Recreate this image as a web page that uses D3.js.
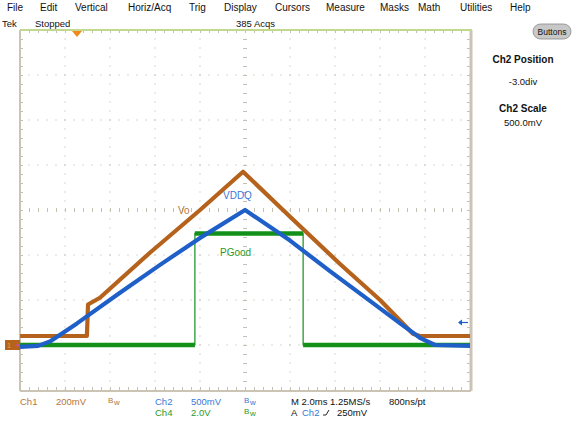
<!DOCTYPE html>
<html><head><meta charset="utf-8">
<script src="https://cdn.jsdelivr.net/npm/d3@7"></script>
<style>
html,body{margin:0;padding:0;background:#fff;}
svg{display:block;font-family:"Liberation Sans",Arial,sans-serif;}
</style></head><body>
<svg id="c" width="573" height="421"></svg>
<script>
// ---------------- data ----------------
const menuItems = ["File","Edit","Vertical","Horiz/Acq","Trig","Display","Cursors","Measure","Masks","Math","Utilities","Help"];
// Ch1 (Vo) : time in ms, volts
const ch1Time  = [-2.53, 0.44, 0.49, 1.02, 3.24, 5.47, 7.38, 9.47, 11.69, 13.47, 14.93, 15.24, 17.47];
const ch1Volts = [0.04, 0.04, 0.18, 0.21, 0.41, 0.60, 0.77, 0.57, 0.36, 0.20, 0.05, 0.04, 0.04];
// Ch2 (VDDQ)
const ch2Time  = [-2.53, -1.73, -1.2, 0, 1.91, 3.69, 5.47, 7.47, 9.47, 11.24, 13.02, 14.36, 15.24, 15.91, 17.47];
const ch2Volts = [-0.02, -0.01, 0.04, 0.24, 0.58, 0.89, 1.19, 1.50, 1.16, 0.82, 0.49, 0.24, 0.08, 0.0, -0.01];
// Ch4 (PGood)
const ch4Time  = [-2.53, 5.24, 5.24, 10.05, 10.05, 17.47];
const ch4Volts = [0, 0, 4.96, 4.96, 0, 0];
// channel settings (V/div, position div)
const channelNames = ["Ch1","Ch2","Ch4"];
const channelScales = [0.2, 0.5, 2.0];
const channelPositions = [-3.0, -3.0, -3.0];
const timePerDiv = 2.0;           // ms
const timeStart = -2.533;         // ms at left edge
const triggerLevel = 0.25;        // V on Ch2
const acqCount = 385;

// ---------------- layout ----------------
const svg = d3.select("#c");
const L = 20, R = 470, T = 30, B = 390;
const gx = d3.scaleLinear().domain([-5, 5]).range([L, R]);
const gy = d3.scaleLinear().domain([-4, 4]).range([B, T]);
const xT = d3.scaleLinear().domain([timeStart, timeStart + 10 * timePerDiv]).range([L, R]);
const yCh = i => d3.scaleLinear().domain([0, channelScales[i]]).range([gy(channelPositions[i]), gy(channelPositions[i] + 1)]);

const colBrown = "#b5631c", colBlue = "#1f5fc8", colGreen = "#13901a";
const txtBrown = "#b8753a", txtBlue = "#3a78d6", txtGreen = "#2a9a2a";

// menu bar
const menuX = [7,40,75,128,189,224,275,326,380,418,460,510];
svg.selectAll("text.menu").data(menuItems).join("text")
  .attr("x", (d, i) => menuX[i]).attr("y", 11).attr("font-size", 10).attr("fill", "#111").text(d => d);

svg.append("text").attr("x", 2).attr("y", 27).attr("font-size", 9.5).attr("fill", "#111").text("Tek");
svg.append("text").attr("x", 35).attr("y", 27).attr("font-size", 9.5).attr("fill", "#111").text("Stopped");
svg.append("text").attr("x", 236).attr("y", 27).attr("font-size", 9.5).attr("fill", "#111").text(acqCount + " Acqs");

// ---------------- graticule ----------------
const g = svg.append("g");
const minor = d3.range(-25, 26).map(k => k * 0.2);
const minorY = d3.range(-20, 21).map(k => k * 0.2);
const dotCol = "#b4aea2", tickCol = "#c6c0b4";
for (let v = -4; v <= 4; v++) {
  if (v === 0) continue;
  minorY.forEach(m => g.append("rect").attr("x", gx(v) - 0.5).attr("y", gy(m) - 0.5).attr("width", 1).attr("height", 1).attr("fill", dotCol));
}
for (let h = -3; h <= 3; h++) {
  if (h === 0) continue;
  minor.forEach(m => g.append("rect").attr("x", gx(m) - 0.5).attr("y", gy(h) - 0.5).attr("width", 1).attr("height", 1).attr("fill", dotCol));
}
// center lines with ticks
minorY.forEach(m => g.append("line").attr("x1", gx(0) - 2).attr("x2", gx(0) + 2).attr("y1", gy(m) + 0.5).attr("y2", gy(m) + 0.5).attr("stroke", tickCol));
minor.forEach(m => g.append("line").attr("y1", gy(0) - 2).attr("y2", gy(0) + 2).attr("x1", gx(m) + 0.5).attr("x2", gx(m) + 0.5).attr("stroke", tickCol));
// border ticks
minorY.forEach(m => {
  g.append("line").attr("x1", L).attr("x2", L + 3).attr("y1", gy(m) + 0.5).attr("y2", gy(m) + 0.5).attr("stroke", tickCol);
  g.append("line").attr("x1", R - 3).attr("x2", R).attr("y1", gy(m) + 0.5).attr("y2", gy(m) + 0.5).attr("stroke", tickCol);
});
minor.forEach(m => {
  g.append("line").attr("y1", T).attr("y2", T + 3).attr("x1", gx(m) + 0.5).attr("x2", gx(m) + 0.5).attr("stroke", tickCol);
  g.append("line").attr("y1", B - 3).attr("y2", B).attr("x1", gx(m) + 0.5).attr("x2", gx(m) + 0.5).attr("stroke", tickCol);
});
// borders
g.append("line").attr("x1", L).attr("x2", L).attr("y1", T).attr("y2", B + 1).attr("stroke", "#cbc4b4").attr("stroke-width", 2);
g.append("line").attr("x1", L).attr("x2", R + 1).attr("y1", B + 1).attr("y2", B + 1).attr("stroke", "#cbc4b4").attr("stroke-width", 2);
g.append("line").attr("x1", R + 1).attr("x2", R + 1).attr("y1", T).attr("y2", B + 1).attr("stroke", "#cbc4b4").attr("stroke-width", 3);
g.append("line").attr("x1", L).attr("x2", R + 2).attr("y1", T).attr("y2", T).attr("stroke", "#c2d88c").attr("stroke-width", 2);

// ---------------- traces ----------------
const line = d3.line();
const pts = (ts, vs, ci) => ts.map((t, i) => [xT(t), yCh(ci)(vs[i])]);
svg.append("clipPath").attr("id", "plot").append("rect").attr("x", L).attr("y", T).attr("width", R - L).attr("height", B - T);
const tr = svg.append("g").attr("clip-path", "url(#plot)");

tr.append("path").attr("d", line(pts(ch1Time, ch1Volts, 0))).attr("fill", "none").attr("stroke", colBrown).attr("stroke-width", 4.2).attr("stroke-linejoin", "round");
const gp = pts(ch4Time, ch4Volts, 2);
tr.append("path").attr("d", line(gp)).attr("fill", "none").attr("stroke", colGreen).attr("stroke-width", 1.2);
for (let i = 0; i < gp.length - 1; i++) {
  if (ch4Volts[i] === ch4Volts[i + 1]) {
    tr.append("path").attr("d", line([gp[i], gp[i + 1]])).attr("fill", "none").attr("stroke", colGreen).attr("stroke-width", 4.5);
  }
}
tr.append("path").attr("d", line(pts(ch2Time, ch2Volts, 1))).attr("fill", "none").attr("stroke", colBlue).attr("stroke-width", 4.2).attr("stroke-linejoin", "round");

// trace labels
svg.append("text").attr("x", 178).attr("y", 214).attr("font-size", 10).attr("fill", txtBrown).text("Vo");
svg.append("text").attr("x", 223).attr("y", 199).attr("font-size", 10).attr("fill", txtBlue).text("VDDQ");
svg.append("text").attr("x", 220).attr("y", 256).attr("font-size", 10).attr("fill", txtGreen).text("PGood");

// trigger position marker (top)
const tx = xT(0);
svg.append("path").attr("d", `M${tx - 5},${T + 1}L${tx + 5},${T + 1}L${tx},${T + 7}Z`).attr("fill", "#f0891c");
// trigger level marker (right)
const ty = yCh(1)(triggerLevel);
svg.append("line").attr("x1", R - 11).attr("x2", R - 2).attr("y1", ty).attr("y2", ty).attr("stroke", colBlue).attr("stroke-width", 1.2);
svg.append("path").attr("d", `M${R - 12},${ty}L${R - 8},${ty - 3}L${R - 8},${ty + 3}Z`).attr("fill", colBlue);
// ground marker (left)
const gyy = yCh(0)(0);
svg.append("rect").attr("x", 5).attr("y", gyy - 5).attr("width", 15).attr("height", 10).attr("fill", colBrown);
svg.append("text").attr("x", 7).attr("y", gyy + 3).attr("font-size", 7).attr("fill", "#f0a040").text("1");
svg.append("path").attr("d", `M15,${gyy}h5M17.5,${gyy - 2.5}v5`).attr("stroke", "#d040d0").attr("stroke-width", 1);

// ---------------- right panel ----------------
svg.append("rect").attr("x", 533).attr("y", 24).attr("width", 38).attr("height", 15).attr("rx", 7.5).attr("fill", "#c8c8c8").attr("stroke", "#888").attr("stroke-width", 0.8);
svg.append("text").attr("x", 552).attr("y", 35).attr("text-anchor", "middle").attr("font-size", 8.5).attr("fill", "#111").text("Buttons");
const rp = [["Ch2 Position", 63, true], ["-3.0div", 85, false], ["Ch2 Scale", 112, true], ["500.0mV", 126, false]];
rp.forEach(d => svg.append("text").attr("x", 523).attr("y", d[1]).attr("text-anchor", "middle")
  .attr("font-size", d[2] ? 10 : 9.5).attr("font-weight", d[2] ? "bold" : "normal").attr("fill", "#111").text(d[0]));

// ---------------- bottom readouts ----------------
const fs = 9.5;
const tx2 = (x, y, s, c, size) => svg.append("text").attr("x", x).attr("y", y).attr("font-size", size || fs).attr("fill", c).text(s);
tx2(20, 405, channelNames[0], txtBrown);
tx2(56, 405, (channelScales[0] * 1000) + "mV", txtBrown);
tx2(108, 403, "B", txtBrown, 8); tx2(114, 405, "w", txtBrown, 8);
tx2(155, 405, channelNames[1], txtBlue);
tx2(191, 405, (channelScales[1] * 1000) + "mV", txtBlue);
tx2(244, 403, "B", txtBlue, 8); tx2(250, 405, "w", txtBlue, 8);
tx2(155, 416, channelNames[2], txtGreen);
tx2(191, 416, channelScales[2].toFixed(1) + "V", txtGreen);
tx2(244, 414, "B", txtGreen, 8); tx2(250, 416, "w", txtGreen, 8);
tx2(291, 405, "M " + timePerDiv.toFixed(1) + "ms 1.25MS/s", "#111");
tx2(389, 405, "800ns/pt", "#111");
tx2(291, 416, "A", "#111");
tx2(302, 416, "Ch2", txtBlue);
svg.append("path").attr("d", "M323,415L326,415L329,410").attr("fill", "none").attr("stroke", "#111").attr("stroke-width", 0.9);
tx2(337, 416, (triggerLevel * 1000) + "mV", "#111");
</script>
</body></html>
